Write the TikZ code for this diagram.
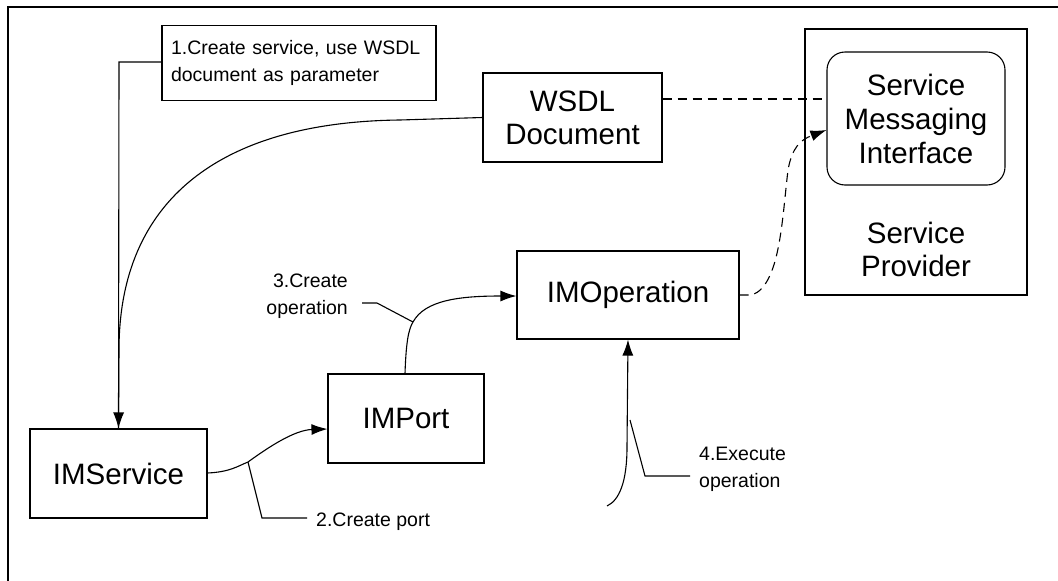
\documentclass[tikz,border=0pt]{standalone}
\usepackage{fontspec}
\setmainfont{Liberation Sans}
\usetikzlibrary{arrows.meta}

\tikzset{
  box/.style={draw, line width=1.1pt, inner sep=0pt, align=center,
    font=\fontsize{29.5}{33}\selectfont},
  notebox/.style={draw, line width=1.1pt, inner sep=0pt, align=left,
    font=\fontsize{19.5}{27}\selectfont},
  notetext/.style={inner sep=0pt, font=\fontsize{19.5}{26.5}\selectfont},
  tip/.style={-{Latex[length=16pt,width=11pt]}},
  conn/.style={line width=1.1pt, tip},
  plain/.style={line width=1.1pt},
  dashconn/.style={line width=1.1pt, dash pattern=on 9pt off 6pt},
}

\begin{document}
\begin{tikzpicture}[x=1pt, y=-1pt]
  \useasboundingbox (0,0) rectangle (1058,581);

  % outer frame (open to the right and bottom)
  \draw[line width=1.4pt] (8,581) -- (8,7) -- (1058,7);

  % boxes
  \node[box, minimum width=177pt, minimum height=89pt] (imservice) at (118.5,473.5) {IMService};
  \node[box, minimum width=156pt, minimum height=89pt] (import) at (406,418.5) {IMPort};
  \node[box, minimum width=222pt, minimum height=88pt] (imoperation) at (628,295) {IMOperation};
  \node[box, minimum width=179pt, minimum height=89pt] (wsdl) at (572.5,117.5) {WSDL\\Document};
  \node[box, minimum width=222pt, minimum height=266pt] (provider) at (916,162) {};
  \node[box, font=\fontsize{29.5}{34}\selectfont, rounded corners=18pt,
        minimum width=178pt, minimum height=133pt] (smi) at (916,118.5)
        {Service\\Messaging\\Interface};
  \node[box, draw=none] (providerlabel) at (916,249) {Service\\Provider};

  % note for step 1
  \node[notebox, minimum width=274pt, minimum height=75pt, text width=256pt]
    (note1) at (299,63) {1.Create service, use WSDL\\document as parameter};

  % step 1: create the service from the WSDL document
  \draw[plain] (note1.west |- 0,62) -- (119,62) -- (imservice.north);
  \draw[conn] (wsdl.west) -- (466,118) -- (400,120)
    .. controls (220,122) and (119,200) .. (119,350) -- (imservice.north);

  % step 2: create port
  \coordinate (j2) at (248,462);
  \draw[conn] (imservice.east |- 0,473) .. controls (230,472) and (238,466) .. (j2)
    .. controls (270,446) and (295,430) .. (import.west |- 0,429);
  \draw[plain] (j2) -- (262,518) -- (307,518);
  \node[notetext, anchor=base west] (label2) at (316,526) {2.Create port};

  % step 3: create operation
  \coordinate (j3) at (413,322);
  \draw[conn] (import.north -| 405,0) .. controls (406,345) and (408,330) .. (j3)
    .. controls (425,300) and (460,296) .. (imoperation.west |- 0,296);
  \draw[plain] (j3) -- (377,303) -- (362,303);
  \node[notetext, align=right, anchor=base east] (label3) at (348,314) {3.Create\\operation};

  % step 4: execute operation
  \coordinate (s4) at (607,506);
  \draw[conn] (s4) .. controls (620,500) and (627,480) .. (627,447)
    -- (imoperation.south);
  \draw[plain] (630,420) -- (645,476) -- (690,476);
  \node[notetext, align=left, anchor=base west] (label4) at (699,487) {4.Execute\\operation};

  % messaging links to the service provider
  \draw[dashconn] (wsdl.east |- 0,99) -- (smi.west |- 0,99);
  \draw[dashconn, tip] (imoperation.east) -- (752,295)
    .. controls (780,285) and (782,220) .. (788,170)
    .. controls (792,148) and (800,140) .. (smi.west |- 0,130);
\end{tikzpicture}
\end{document}
